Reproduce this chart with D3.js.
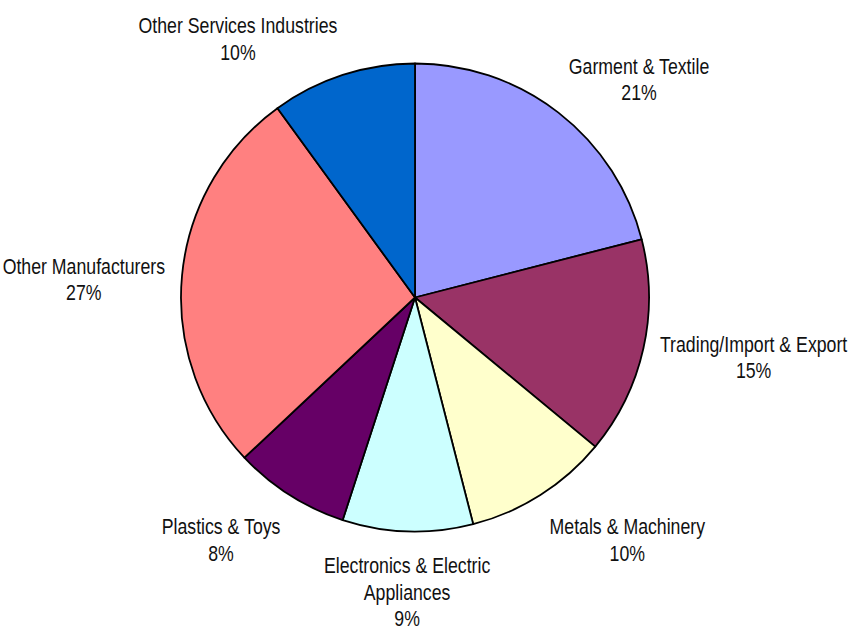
<!DOCTYPE html>
<html>
<head>
<meta charset="utf-8">
<script src="https://cdn.jsdelivr.net/npm/d3@7"></script>
<style>
  html, body { margin: 0; padding: 0; background: #fff; }
  svg { display: block; }
  .lbl { font-family: "Liberation Sans Narrow", "Arial Narrow", "Liberation Sans", Arial, sans-serif; fill: #111; }
</style>
</head>
<body>
<svg id="chart" width="849" height="626"></svg>
<script>
// Industry shares (per cent), clockwise from 12 o'clock
const categories = [
  ["Garment & Textile"],
  ["Trading/Import & Export"],
  ["Metals & Machinery"],
  ["Electronics & Electric", "Appliances"],
  ["Plastics & Toys"],
  ["Other Manufacturers"],
  ["Other Services Industries"]
];
const shares = [21, 15, 10, 9, 8, 27, 10];
const colors = ["#9999FF", "#993366", "#FFFFCC", "#CCFFFF", "#660066", "#FF8080", "#0066CC"];

const W = 849, H = 626;
const cx = 415, cy = 297.5, radius = 234;
const fontSize = 21.6, lineH = 26.5;
const ascent = fontSize * 0.905, descent = fontSize * 0.212;
// narrow face: squeeze the regular sans horizontally
const squeeze = 0.82;

const svg = d3.select("#chart");
const g = svg.append("g").attr("transform", `translate(${cx},${cy})`);

const data = shares.map((v, i) => ({ name: categories[i], value: v, color: colors[i] }));
const pie = d3.pie().value(d => d.value).sort(null);
const arc = d3.arc().innerRadius(0).outerRadius(radius);
const arcs = pie(data);

g.selectAll("path.slice")
  .data(arcs)
  .join("path")
  .attr("class", "slice")
  .attr("d", arc)
  .attr("fill", d => d.data.color)
  .attr("stroke", "#000")
  .attr("stroke-width", 1.8)
  .attr("stroke-linejoin", "round");

// Labels sit on a ring just outside the rim. Away from the axes the
// box corner facing the pie touches the ring; near the axes the box
// is centred on the ring point along that axis.
const lean = t => Math.sign(t) * Math.max(0, Math.min(1, (Math.abs(t) - 0.22) / 0.08));
const labelR = radius + 17, ringDy = 5.5;

arcs.forEach(d => {
  const lines = d.data.name.concat([d.data.value + "%"]);
  const t = g.append("text").attr("class", "lbl")
    .attr("font-size", fontSize)
    .attr("text-anchor", "middle");
  lines.forEach((s, i) => {
    t.append("tspan").attr("x", 0).attr("dy", i === 0 ? 0 : lineH).text(s);
  });
  const w = t.node().getBBox().width * squeeze;
  const h = ascent + descent + (lines.length - 1) * lineH;
  const a = (d.startAngle + d.endAngle) / 2;
  const px = labelR * Math.sin(a), py = -labelR * Math.cos(a) + ringDy;
  const lx = px + (w / 2) * lean(Math.sin(a));
  const ly = py - (h / 2) * lean(Math.cos(a));
  const baseline = ly - h / 2 + ascent;
  t.attr("transform", `translate(${lx},${baseline}) scale(${squeeze},1)`);
});
</script>
</body>
</html>
